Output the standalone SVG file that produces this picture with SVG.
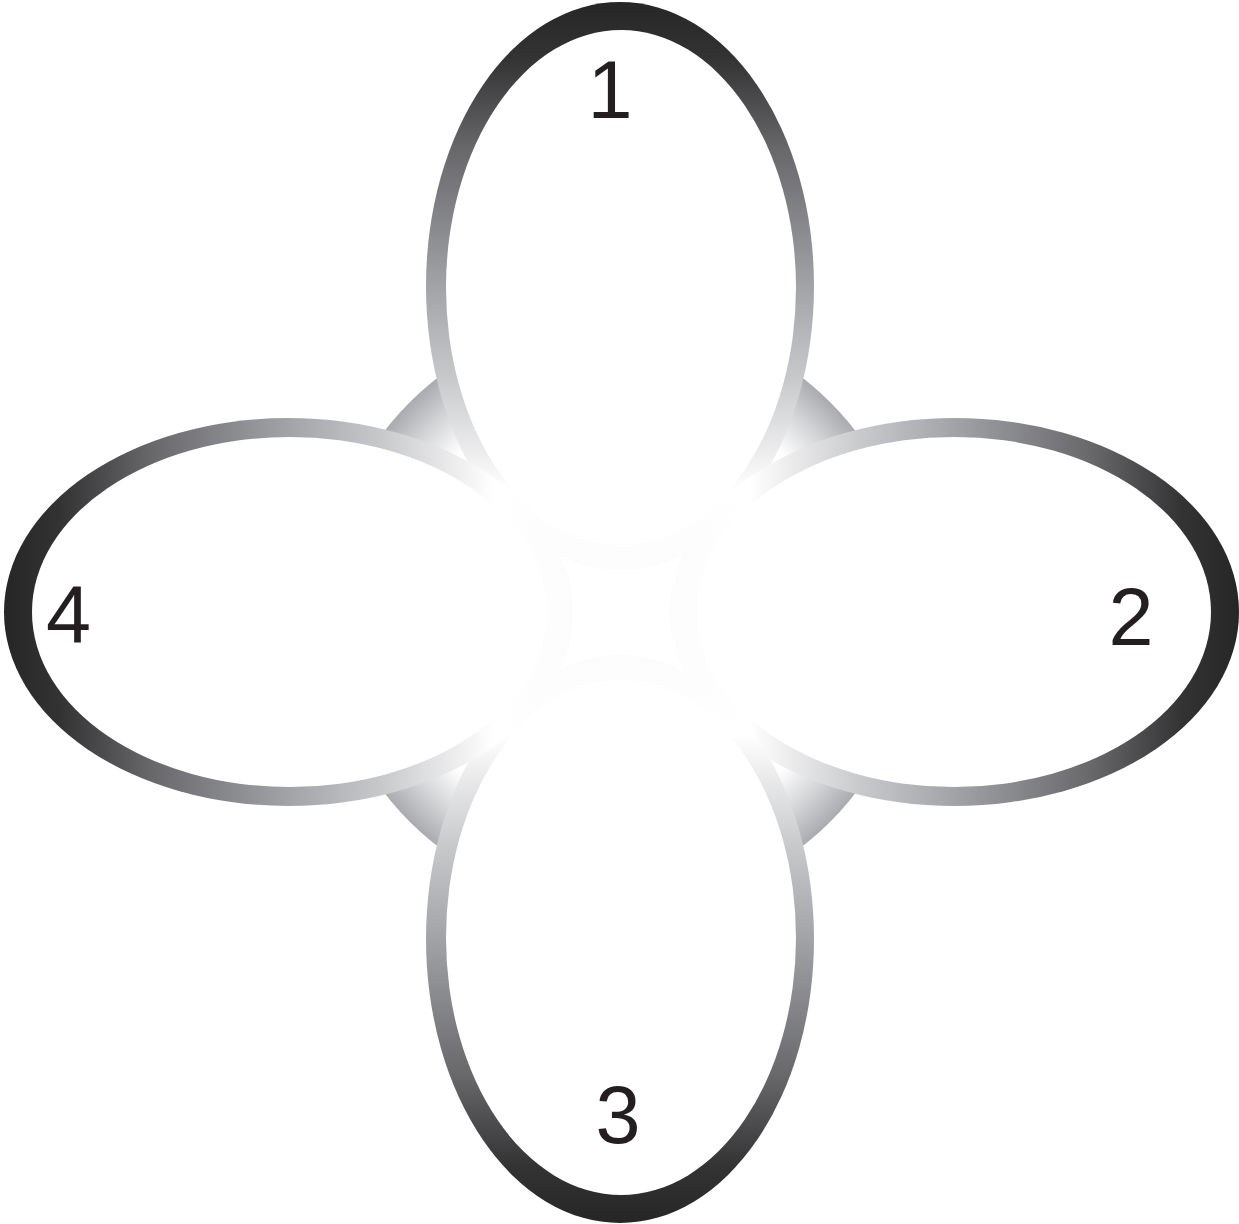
<svg xmlns="http://www.w3.org/2000/svg" width="1239" height="1224" viewBox="0 0 1239 1224">
<style>
.lbl{font-family:"Liberation Sans",Arial,sans-serif;font-size:81px;fill:#231f20;text-anchor:middle}
.in{fill:#ffffff}
</style>
<defs>
<radialGradient id="gc" cx="620" cy="612" r="297" gradientUnits="userSpaceOnUse">
<stop offset="0" stop-color="#ffffff"/>
<stop offset="0.76" stop-color="#ffffff"/>
<stop offset="0.88" stop-color="#d6d7d9"/>
<stop offset="1" stop-color="#aaabae"/>
</radialGradient>
<linearGradient id="gt" x1="0" y1="2" x2="0" y2="570" gradientUnits="userSpaceOnUse">
<stop offset="0" stop-color="#262626"/>
<stop offset="0.1" stop-color="#333334"/>
<stop offset="0.26" stop-color="#68686b"/>
<stop offset="0.5" stop-color="#a2a3a7"/>
<stop offset="0.66" stop-color="#c7c8ca"/>
<stop offset="0.79" stop-color="#ececed"/>
<stop offset="0.86" stop-color="#ffffff"/>
<stop offset="1" stop-color="#fcfcfc"/>
</linearGradient>
<linearGradient id="gb" x1="0" y1="1223" x2="0" y2="655" gradientUnits="userSpaceOnUse" href="#gt" xlink:href="#gt" xmlns:xlink="http://www.w3.org/1999/xlink"/>
<linearGradient id="gl" x1="4" y1="0" x2="573" y2="0" gradientUnits="userSpaceOnUse" href="#gt" xlink:href="#gt" xmlns:xlink="http://www.w3.org/1999/xlink"/>
<linearGradient id="gr" x1="1239" y1="0" x2="670" y2="0" gradientUnits="userSpaceOnUse" href="#gt" xlink:href="#gt" xmlns:xlink="http://www.w3.org/1999/xlink"/>
</defs>
<g id="hub">
<circle cx="620" cy="612" r="297" fill="url(#gc)"/>
</g>
<g id="petal-1">
<ellipse cx="620" cy="286" rx="194" ry="284" fill="url(#gt)"/>
<ellipse class="in" cx="621" cy="287.5" rx="175" ry="257.5"/>
</g>
<g id="petal-2">
<ellipse cx="954.5" cy="612" rx="284.5" ry="194" fill="url(#gr)"/>
<ellipse class="in" cx="954" cy="612" rx="257" ry="175"/>
</g>
<g id="petal-3">
<ellipse cx="620" cy="939" rx="194" ry="284" fill="url(#gb)"/>
<ellipse class="in" cx="621" cy="937.5" rx="175" ry="257.5"/>
</g>
<g id="petal-4">
<ellipse cx="288.5" cy="612" rx="284.5" ry="194" fill="url(#gl)"/>
<ellipse class="in" cx="289.5" cy="612" rx="257.5" ry="175"/>
</g>
<g id="labels">
<text class="lbl" x="610" y="118">1</text>
<text class="lbl" x="1131" y="645">2</text>
<text class="lbl" x="618" y="1143">3</text>
<text class="lbl" x="68.5" y="643">4</text>
</g>
</svg>
